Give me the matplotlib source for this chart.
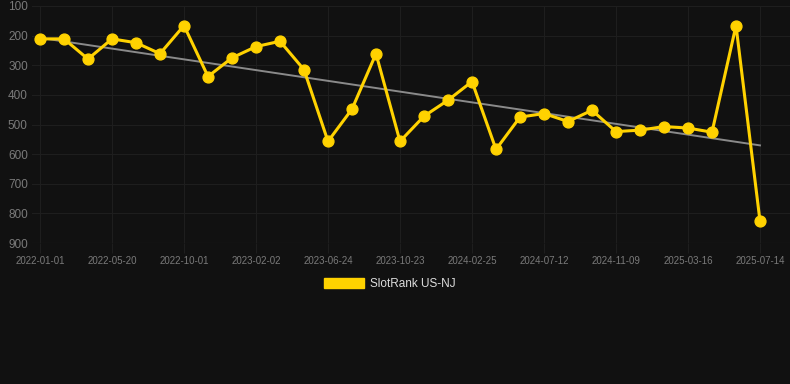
import numpy as np
import matplotlib
matplotlib.use("Agg")
import matplotlib.pyplot as plt
from matplotlib.patches import Patch

plt.rcParams['font.family'] = ['Liberation Sans', 'DejaVu Sans']

series_name = "SlotRank US-NJ"
ranks = [211, 211, 279, 211, 224, 261, 166, 338, 275, 237, 219, 315, 557, 448, 261,
         557, 472, 418, 355, 584, 475, 463, 490, 452, 524, 519, 507, 512, 526, 166, 826]
tick_labels = ["2022-01-01", "2022-05-20", "2022-10-01", "2023-02-02", "2023-06-24",
               "2023-10-23", "2024-02-25", "2024-07-12", "2024-11-09", "2025-03-16",
               "2025-07-14"]
tick_step = 3
y_ticks = [100, 200, 300, 400, 500, 600, 700, 800, 900]

BG = "#111111"
GRID = "#1e1e1e"
YELLOW = "#FFD200"
TXT = "#7a7a7a"

W, H = 790, 384
fig = plt.figure(figsize=(W / 100, H / 100), dpi=100, facecolor=BG)
ax = fig.add_axes([32 / W, 1 - 243 / H, (790 - 32) / W, (243 - 6) / H])
ax.set_facecolor(BG)

x = np.arange(len(ranks))
y = np.array(ranks, dtype=float)

# trend line (least squares)
coef = np.polyfit(x, y, 1)
ax.plot(x, np.polyval(coef, x), color="#8a8a8a", lw=1.4, zorder=2)

ax.plot(x, y, color=YELLOW, lw=2.2, marker="o", ms=7.8, mfc=YELLOW, mec=YELLOW,
        zorder=3, clip_on=False)

ax.set_xlim(-1 / 3, 31.25)
ax.set_ylim(900, 100)
ax.set_yticks(y_ticks)
ax.set_yticklabels([str(v) for v in y_ticks])
ax.set_xticks(x[::tick_step])
ax.set_xticklabels(tick_labels)

ax.grid(True, color=GRID, lw=0.8)
for s in ax.spines.values():
    s.set_visible(False)
ax.axhline(900, color="#262626", lw=0.8, zorder=1)

ax.tick_params(axis="y", length=0, pad=3, labelsize=8.5, labelcolor=TXT)
ax.tick_params(axis="x", length=7, width=0.8, color=GRID, pad=2, labelsize=7,
               labelcolor=TXT)

handle = Patch(facecolor=YELLOW, edgecolor=YELLOW)
leg = fig.legend([handle], [series_name], loc="center", bbox_to_anchor=(390 / W, 1 - 284 / H),
                 frameon=False, fontsize=8.5, handlelength=3.4, handleheight=0.95,
                 handletextpad=0.5, labelcolor="#dddddd")

fig.savefig("out.png", dpi=100, facecolor=BG)
